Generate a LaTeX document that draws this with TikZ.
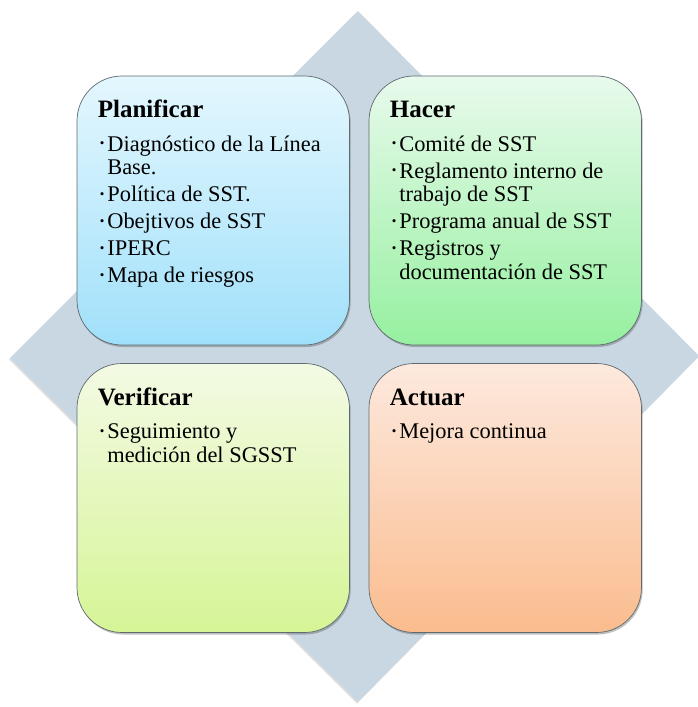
\documentclass[tikz,border=0pt]{standalone}
\usepackage{fontspec}
\setmainfont{Liberation Serif}
\usetikzlibrary{calc,shadows}
\definecolor{diam}{RGB}{201,215,226}
\definecolor{pTop}{RGB}{228,247,254}
\definecolor{pBot}{RGB}{160,224,250}
\definecolor{hTop}{RGB}{232,250,236}
\definecolor{hBot}{RGB}{150,240,160}
\definecolor{vTop}{RGB}{243,250,228}
\definecolor{vBot}{RGB}{214,245,150}
\definecolor{aTop}{RGB}{253,233,222}
\definecolor{aBot}{RGB}{250,188,142}
\definecolor{edge}{RGB}{95,105,110}
\newcommand\blt{\makebox[7.5pt][l]{\raisebox{3.5pt}{\fontsize{13}{13}\selectfont •}}}
\tikzset{
  quad/.style={draw=edge, line width=0.7pt, rounded corners=45pt,
    minimum width=272.5pt, minimum height=269pt, inner sep=0pt,
    drop shadow={shadow xshift=1.2pt, shadow yshift=-2pt, opacity=0.35, fill=black!70}},
  ttl/.style={anchor=base west, inner sep=0pt, font=\fontsize{25}{27}\selectfont\bfseries},
  itm/.style={anchor=base west, inner sep=0pt, font=\fontsize{22.4}{24}\selectfont},
}
\begin{document}
\begin{tikzpicture}[x=1pt,y=-1pt]
\useasboundingbox[fill=white] (0,0) rectangle (698,707);
% background diamond
\path[fill=diam, drop shadow={shadow xshift=-1pt, shadow yshift=-1.5pt, opacity=0.25, fill=black!50}]
  (358,11) -- (699,356) -- (358,702) -- (10,358) -- cycle;
% boxes
\node[quad, top color=pTop, bottom color=pBot] (P) at (213.25,210.5) {};
\node[quad, top color=hTop, bottom color=hBot] (H) at (505.25,210.5) {};
\node[quad, top color=vTop, bottom color=vBot] (V) at (213.25,498) {};
\node[quad, top color=aTop, bottom color=aBot] (A) at (505.25,498) {};
% Planificar
\node[ttl] (Pt) at ($(P.north west)+(21,42)$) {Planificar};
\node[itm] (P1) at ($(P.north west)+(23,75.5)$) {\blt Diagnóstico de la Línea};
\node[itm] (P1b) at ($(P.north west)+(30.5,99)$) {Base.};
\node[itm] (P2) at ($(P.north west)+(23,126)$) {\blt Política de SST.};
\node[itm] (P3) at ($(P.north west)+(23,153)$) {\blt Obejtivos de SST};
\node[itm] (P4) at ($(P.north west)+(23,180)$) {\blt IPERC};
\node[itm] (P5) at ($(P.north west)+(23,207)$) {\blt Mapa de riesgos};
% Hacer
\node[ttl] (Ht) at ($(H.north west)+(21,42)$) {Hacer};
\node[itm] (H1) at ($(H.north west)+(23,75.5)$) {\blt Comité de SST};
\node[itm] (H2) at ($(H.north west)+(23,102.5)$) {\blt Reglamento interno de};
\node[itm] (H2b) at ($(H.north west)+(30.5,126)$) {trabajo de SST};
\node[itm] (H3) at ($(H.north west)+(23,153)$) {\blt Programa anual de SST};
\node[itm] (H4) at ($(H.north west)+(23,180)$) {\blt Registros y};
\node[itm] (H4b) at ($(H.north west)+(30.5,203.5)$) {documentación de SST};
% Verificar
\node[ttl] (Vt) at ($(V.north west)+(21,42)$) {Verificar};
\node[itm] (V1) at ($(V.north west)+(23,75.5)$) {\blt Seguimiento y};
\node[itm] (V1b) at ($(V.north west)+(30.5,99)$) {medición del SGSST};
% Actuar
\node[ttl] (At) at ($(A.north west)+(21,42)$) {Actuar};
\node[itm] (A1) at ($(A.north west)+(23,75.5)$) {\blt Mejora continua};
\end{tikzpicture}
\end{document}
